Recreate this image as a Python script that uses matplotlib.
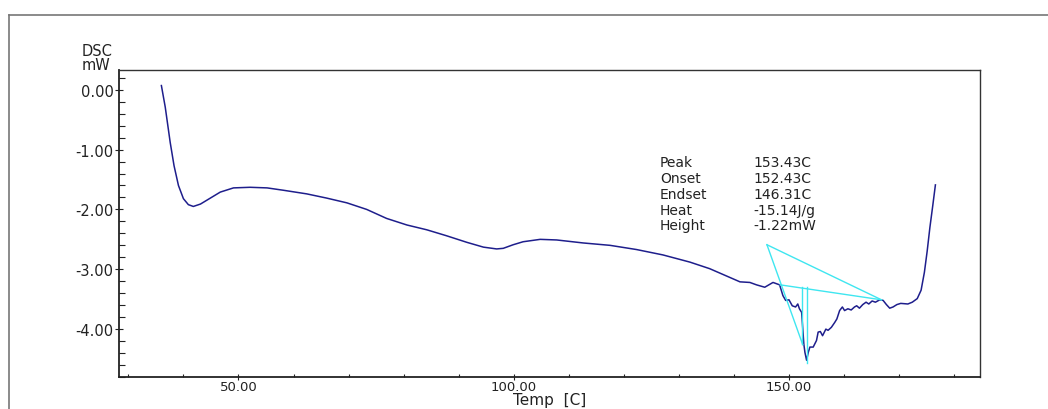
import numpy as np
import matplotlib
matplotlib.use("Agg")
from matplotlib import pyplot as plt
from matplotlib.lines import Line2D
from matplotlib.ticker import MultipleLocator, FormatStrFormatter

# DSC trace (Temp in C, heat flow in mW)
temp = [36.0, 36.7, 37.6, 38.3, 39.1, 40.0, 40.9, 41.8, 43.1, 44.9, 46.7, 49.1,
        52.1, 55.2, 58.2, 62.4, 66.0, 69.7, 73.3, 76.9, 80.6, 84.2, 87.8, 91.5,
        94.5, 96.9, 98.1, 99.9, 101.7, 104.8, 107.8, 112.6, 117.5, 122.3, 127.1,
        132.0, 135.6, 138.6, 141.1, 142.9, 144.1, 145.6, 147.1, 148.3, 148.9,
        149.4, 150.0, 150.6, 151.2, 151.6, 151.9, 152.3, 152.7, 152.9, 153.2,
        153.5, 153.8, 154.4, 155.0, 155.3, 155.7, 156.1, 156.7, 157.1, 157.7,
        158.3, 158.7, 159.2, 159.7, 160.1, 160.7, 161.3, 161.9, 162.3, 162.8,
        163.4, 164.0, 164.5, 165.1, 165.7, 166.5, 167.1, 167.7, 168.3, 168.9,
        169.6, 170.3, 171.6, 172.4, 173.3, 174.0, 174.6, 175.1, 175.6, 176.1,
        176.6]
dsc = [0.07, -0.29, -0.88, -1.27, -1.60, -1.82, -1.92, -1.95, -1.91, -1.81,
       -1.71, -1.64, -1.63, -1.64, -1.68, -1.74, -1.81, -1.89, -2.00, -2.15,
       -2.26, -2.34, -2.44, -2.55, -2.63, -2.66, -2.65, -2.59, -2.54, -2.50,
       -2.51, -2.56, -2.60, -2.67, -2.76, -2.88, -2.99, -3.11, -3.21, -3.22,
       -3.26, -3.30, -3.22, -3.26, -3.44, -3.52, -3.51, -3.61, -3.63, -3.58,
       -3.66, -3.72, -4.25, -4.39, -4.52, -4.39, -4.30, -4.30, -4.19, -4.05,
       -4.04, -4.11, -4.00, -4.02, -3.97, -3.89, -3.83, -3.69, -3.63, -3.69,
       -3.66, -3.68, -3.63, -3.61, -3.65, -3.59, -3.55, -3.58, -3.53, -3.55,
       -3.51, -3.52, -3.59, -3.65, -3.63, -3.59, -3.57, -3.58, -3.55, -3.49,
       -3.35, -3.05, -2.70, -2.30, -1.95, -1.59]

# analysis construction lines (cyan)
apex = (146.0, -2.59)
base_left = (148.4, -3.26)
base_right = (166.8, -3.51)
tangent_end = (152.5, -4.26)
onset_line = ([152.3, 152.3], [-3.29, -4.25])
peak_line = ([153.2, 153.2], [-3.30, -4.57])

stat_names = ["Peak", "Onset", "Endset", "Heat", "Height"]
stat_values = ["153.43C", "152.43C", "146.31C", "-15.14J/g", "-1.22mW"]

plt.rcParams['font.family'] = ['DejaVu Sans']

fig = plt.figure(figsize=(10.48, 4.10), dpi=100)
ax = fig.add_axes([119 / 1048, 32 / 410, 861 / 1048, 307 / 410])

curve_col = '#1e1e8c'
cyan = '#3fe6f0'
txt_col = '#222222'

ax.plot(temp, dsc, color=curve_col, lw=1.1, zorder=3)

# cyan lines
ax.plot([apex[0], base_right[0]], [apex[1], base_right[1]], color=cyan, lw=1.0, zorder=4)
ax.plot([apex[0], tangent_end[0]], [apex[1], tangent_end[1]], color=cyan, lw=1.0, zorder=4)
ax.plot([base_left[0], base_right[0]], [base_left[1], base_right[1]], color=cyan, lw=1.0, zorder=4)
ax.plot(onset_line[0], onset_line[1], color=cyan, lw=1.0, zorder=4)
ax.plot(peak_line[0], peak_line[1], color=cyan, lw=1.0, zorder=4)

ax.set_xlim(28.3, 184.7)
ax.set_ylim(-4.80, 0.33)

ax.xaxis.set_major_locator(MultipleLocator(50))
ax.xaxis.set_minor_locator(MultipleLocator(10))
ax.yaxis.set_major_locator(MultipleLocator(1))
ax.yaxis.set_minor_locator(MultipleLocator(0.2))
ax.xaxis.set_major_formatter(FormatStrFormatter('%.2f'))
ax.yaxis.set_major_formatter(FormatStrFormatter('%.2f'))

ax.tick_params(axis='x', which='major', direction='inout', length=5, width=0.8,
               labelsize=9.5, pad=0, colors=txt_col)
ax.tick_params(axis='x', which='minor', direction='in', length=2, width=0.8, colors=txt_col)
ax.tick_params(axis='y', which='major', direction='inout', length=6, width=0.8,
               labelsize=10.5, pad=1, colors=txt_col)
ax.tick_params(axis='y', which='minor', direction='in', length=4, width=0.8, colors=txt_col)

for side in ['left', 'bottom']:
    ax.spines[side].set_linewidth(1.3)
    ax.spines[side].set_color(txt_col)
for side in ['top', 'right']:
    ax.spines[side].set_linewidth(1.0)
    ax.spines[side].set_color('#333333')

ax.set_xlabel("Temp  [C]", fontsize=11, color=txt_col)
ax.xaxis.set_label_coords(0.5, -0.049)

fig.text(82 / 1048, 1 - 52 / 410, "DSC", fontsize=10.5, ha='left', va='center', color=txt_col)
fig.text(82 / 1048, 1 - 65 / 410, "mW", fontsize=10.5, ha='left', va='center', color=txt_col)

# stats box
rows_y = [163, 179, 195, 211, 226]
for name, val, yy in zip(stat_names, stat_values, rows_y):
    fig.text(660 / 1048, 1 - yy / 410, name, fontsize=10, ha='left', va='center', color=txt_col)
    fig.text(753 / 1048, 1 - yy / 410, val, fontsize=10, ha='left', va='center', color=txt_col)

# outer frame lines
fig.add_artist(Line2D([9 / 1048, 9 / 1048], [0, 1 - 16 / 410], transform=fig.transFigure,
                      color='#777777', lw=1.2))
fig.add_artist(Line2D([9 / 1048, 1], [1 - 16 / 410, 1 - 16 / 410], transform=fig.transFigure,
                      color='#777777', lw=1.2))

fig.savefig('out.png', dpi=100)
